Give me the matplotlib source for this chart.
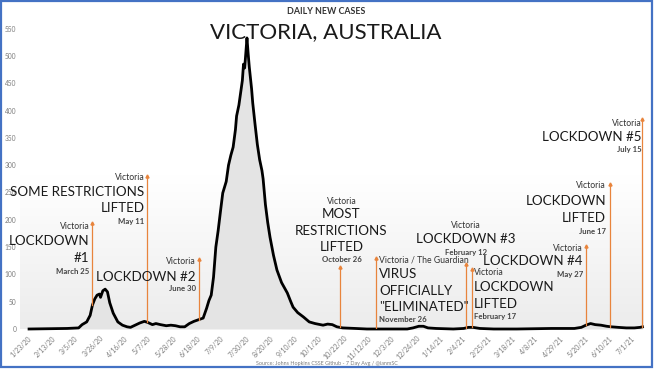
"""Victoria, Australia: daily new cases (7-day avg) with lockdown milestones."""
import matplotlib
matplotlib.use("Agg")
import matplotlib.pyplot as plt
import numpy as np
import pandas as pd
from matplotlib.colors import LinearSegmentedColormap
from matplotlib.patches import Rectangle

# 7-day average of daily new cases
avg_dates = [
    "2020-01-30", "2020-03-03", "2020-03-13", "2020-03-16", "2020-03-20",
    "2020-03-23", "2020-03-25", "2020-03-27", "2020-03-29", "2020-03-31",
    "2020-04-01", "2020-04-03", "2020-04-05", "2020-04-07", "2020-04-09",
    "2020-04-12", "2020-04-16", "2020-04-20", "2020-04-24", "2020-04-27",
    "2020-05-01", "2020-05-05", "2020-05-09", "2020-05-12", "2020-05-16",
    "2020-05-19", "2020-05-23", "2020-05-28", "2020-06-01", "2020-06-05",
    "2020-06-09", "2020-06-13", "2020-06-17", "2020-06-21", "2020-06-25",
    "2020-06-29", "2020-07-02", "2020-07-04", "2020-07-06", "2020-07-08",
    "2020-07-10", "2020-07-12", "2020-07-14", "2020-07-16", "2020-07-19",
    "2020-07-21", "2020-07-23", "2020-07-25", "2020-07-27", "2020-07-28",
    "2020-07-30", "2020-08-01", "2020-08-02", "2020-08-03", "2020-08-04",
    "2020-08-05", "2020-08-06", "2020-08-07", "2020-08-08", "2020-08-10",
    "2020-08-11", "2020-08-13", "2020-08-15", "2020-08-17", "2020-08-19",
    "2020-08-20", "2020-08-22", "2020-08-24", "2020-08-26", "2020-08-29",
    "2020-09-01", "2020-09-05", "2020-09-10", "2020-09-13", "2020-09-15",
    "2020-09-19", "2020-09-24", "2020-09-29", "2020-10-04", "2020-10-11",
    "2020-10-15", "2020-10-19", "2020-10-23", "2020-10-28", "2020-11-08",
    "2020-11-18", "2020-12-08", "2020-12-23", "2020-12-28", "2021-01-02",
    "2021-01-06", "2021-01-10", "2021-01-17", "2021-02-01", "2021-02-10",
    "2021-02-14", "2021-02-18", "2021-02-24", "2021-03-08", "2021-03-28",
    "2021-04-27", "2021-05-17", "2021-05-23", "2021-05-27", "2021-05-31",
    "2021-06-04", "2021-06-09", "2021-06-14", "2021-06-18", "2021-06-24",
    "2021-07-01", "2021-07-08", "2021-07-13", "2021-07-15",
]
avg_cases = [
    0, 1, 2, 8, 13,
    25, 44, 55, 62, 64,
    58, 70, 73, 68, 48,
    29, 13, 7, 4, 3,
    7, 11, 14, 12, 8,
    10, 8, 6, 7, 6,
    4, 4, 10, 14, 17,
    20, 38, 52, 62, 95,
    150, 180, 215, 249, 270,
    300, 318, 333, 365, 390,
    410, 440, 455, 485, 478,
    505, 533, 505, 480, 440,
    414, 375, 338, 310, 290,
    275, 228, 195, 168, 135,
    108, 85, 66, 50, 40,
    30, 22, 13, 10, 7,
    9, 8, 4, 2, 1,
    0, 0, 0, 2, 5,
    5, 2, 1, 0, 1,
    3, 3, 1, 0, 0,
    1, 1, 3, 7, 10,
    8, 7, 5, 4, 3,
    2, 2, 3, 4,
]

# milestones: where the orange marker is drawn, and its caption lines
event_dates = ["2020-03-25", "2020-05-11", "2020-06-25", "2020-10-26",
               "2020-11-26", "2021-02-12", "2021-02-17", "2021-05-27",
               "2021-06-17", "2021-07-15"]
event_source = ["Victoria", "Victoria", "Victoria", "Victoria",
                "Victoria / The Guardian", "Victoria", "Victoria", "Victoria",
                "Victoria", "Victoria"]
event_headline = [["LOCKDOWN", "#1"], ["SOME RESTRICTIONS", "LIFTED"],
                  ["LOCKDOWN #2"], ["MOST", "RESTRICTIONS", "LIFTED"],
                  ["VIRUS", "OFFICIALLY", "\"ELIMINATED\""], ["LOCKDOWN #3"],
                  ["LOCKDOWN", "LIFTED"], ["LOCKDOWN #4"],
                  ["LOCKDOWN", "LIFTED"], ["LOCKDOWN #5"]]
event_day = ["March 25", "May 11", "June 30", "October 26", "November 26",
             "February 12", "February 17", "May 27", "June 17", "July 15"]

tick_labels = ["1/23/20", "2/13/20", "3/5/20", "3/26/20", "4/16/20", "5/7/20",
               "5/28/20", "6/18/20", "7/9/20", "7/30/20", "8/20/20", "9/10/20",
               "10/1/20", "10/22/20", "11/12/20", "12/3/20", "12/24/20",
               "1/14/21", "2/4/21", "2/25/21", "3/18/21", "4/8/21", "4/29/21",
               "5/20/21", "6/10/21", "7/1/21"]

# layout per milestone: top of the stem (cases), text anchor, x nudge (days),
# and the y of each caption line (cases) from top to bottom
LAYOUT = [
    (194, "right", -2.6, [187, 161, 130, 106]),
    (280, "right", -1.8, [278, 251, 222, 196]),
    (128, "right", -2.6, [123, 95, 75]),
    (114, "center", 1.0, [234, 211, 179, 150, 128]),
    (130, "left", 2.6, [126, 101, 70, 40, 18]),
    (119, "center", 0.0, [190, 165, 141]),
    (110, "left", 1.8, [103, 77, 46, 22]),
    (152, "right", -2.6, [148, 125, 99]),
    (265, "right", -3.5, [262, 234, 203, 179]),
    (385, "right", -1.0, [377, 352, 328]),
]

ORANGE, INK, GREY_TXT = "#e8843c", "#1a1a1a", "#7d7d7d"
FONT = ["Lato", "DejaVu Sans"]

x = pd.to_datetime(avg_dates)
y = np.array(avg_cases, dtype=float)
days = (x - x[0]).days.values

fig = plt.figure(figsize=(6.54, 3.69), dpi=100)
rect = [20.4/654, 1 - 329/369, (643.6 - 20.4)/654, (329 - 23.2)/369]

bg = fig.add_axes(rect, zorder=0)
shade = LinearSegmentedColormap.from_list("bg", ["#ececec", "#ffffff", "#ffffff"])
bg.imshow(np.linspace(0, 1, 256)[:, None], cmap=shade, aspect="auto",
          origin="lower", extent=[0, 1, 0, 1])
bg.axis("off")

ax = fig.add_axes(rect, zorder=1)
ax.patch.set_alpha(0)
ax.fill_between(x, 0, y, color="#e4e4e4", lw=0, zorder=1)
ax.plot(x, y, color="black", lw=2.0, solid_joinstyle="round", zorder=3,
        clip_on=False)

for date, src, head, when, (top, ha, dx, ys) in zip(
        event_dates, event_source, event_headline, event_day, LAYOUT):
    d = pd.Timestamp(date)
    base = np.interp((d - x[0]).days, days, y)
    ax.plot([d, d], [base, top], color=ORANGE, lw=0.9, zorder=4)
    ax.plot([d], [top], marker="^", ms=2.2, color=ORANGE, zorder=4)
    tx = d + pd.Timedelta(days=dx)
    lines = [(src, 6.2, "normal", "#333333")]
    lines += [(h, 9.6, "normal", INK) for h in head]
    lines += [(when, 5.6, "bold", "#444444")]
    for (txt, size, weight, col), ty in zip(lines, ys):
        ax.text(tx, ty, txt, ha=ha, va="center", fontsize=size,
                fontweight=weight, color=col, family=FONT, zorder=5)

ticks = pd.to_datetime(tick_labels, format="%m/%d/%y")
ax.set_xticks(ticks)
ax.set_xticklabels(tick_labels, rotation=45, ha="center", va="top",
                   fontsize=5.0, color=GREY_TXT, family=FONT)
ax.set_yticks(np.arange(0, 551, 50))
ax.set_yticklabels([str(v) for v in range(0, 551, 50)], fontsize=4.8,
                   color=GREY_TXT, family=FONT)
ax.tick_params(axis="y", length=0, pad=3)
ax.tick_params(axis="x", length=0, pad=4)
ax.set_xlim(pd.Timestamp("2020-01-22 12:00"), pd.Timestamp("2021-07-16"))
ax.set_ylim(0, 560)
for spine in ax.spines.values():
    spine.set_visible(False)

fig.text(326/654, 1 - 12/369, "DAILY NEW CASES", ha="center", va="center",
         fontsize=6.4, fontweight="bold", color="#333333", family=FONT)
fig.text(326/654, 1 - 32/369, "VICTORIA, AUSTRALIA", ha="center",
         va="center", fontsize=16, color=INK, family=FONT)
fig.text(327/654, 1 - 364/369,
         "Source: Johns Hopkins CSSE Github - 7 Day Avg / @ianmSC",
         ha="center", va="center", fontsize=3.9, color=GREY_TXT, family=FONT)

fig.add_artist(Rectangle((1/654, 2/369), 651/654, 366/369,
                         transform=fig.transFigure, fill=False,
                         edgecolor="#4472c4", lw=1.6))

fig.savefig("out.png", dpi=100)
